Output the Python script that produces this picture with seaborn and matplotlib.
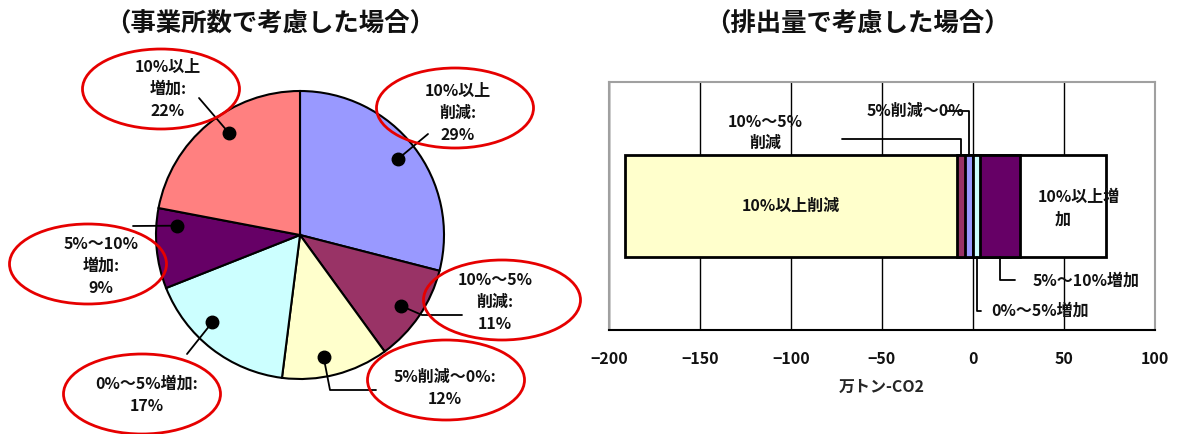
import numpy as np
import pandas as pd
import seaborn as sns
import matplotlib.pyplot as plt
from matplotlib.patches import Ellipse

# 事業所数で見た構成比（%）
pie_labels = ["10%以上削減", "10%～5%削減", "5%削減～0%", "0%～5%増加", "5%～10%増加", "10%以上増加"]
pie_values = [29, 11, 12, 17, 9, 22]
pie_heads = ["10%以上\n削減", "10%～5%\n削減", "5%削減～0%", "0%～5%増加", "5%～10%\n増加", "10%以上\n増加"]
pie_colors = ["#9999FF", "#993366", "#FFFFCC", "#CCFFFF", "#660066", "#FF8080"]

# 排出量で見た増減（万トン-CO2）
bar_labels = ["10%以上削減", "10%～5%削減", "5%削減～0%", "0%～5%増加", "5%～10%増加", "10%以上増加"]
bar_values = [-182, -4.5, -4.5, 4, 22, 47]
bar_colors = ["#FFFFCC", "#993366", "#9999FF", "#CCFFFF", "#660066", "#FFFFFF"]
x_ticks = [-200, -150, -100, -50, 0, 50, 100]

W, H = 1177, 434
sns.set_style("white")
plt.rcParams["font.family"] = ["Noto Sans CJK JP", "DejaVu Sans"]
plt.rcParams["text.color"] = "#111111"
WT = "bold"

fig = plt.figure(figsize=(W / 100, H / 100), dpi=100)

fig.text(270 / W, 1 - 23 / H, "（事業所数で考慮した場合）", ha="center", va="center",
         fontsize=18.3, fontweight=WT)
fig.text(857 / W, 1 - 23 / H, "（排出量で考慮した場合）", ha="center", va="center",
         fontsize=18.3, fontweight=WT)

# ---- 円グラフ（座標はピクセル単位、y は上向き） ----
ax1 = fig.add_axes([0, 0, 600 / W, 1])
def Y(y):
    return H - y

pie_center = (300, Y(235))
pie_radius = 144
wedges, _ = ax1.pie(pie_values, colors=pie_colors, startangle=90, counterclock=False,
                    center=pie_center, radius=pie_radius,
                    wedgeprops=dict(edgecolor="black", linewidth=1.5))
ax1.set_xlim(0, 600)
ax1.set_ylim(0, H)
ax1.axis("off")

# 吹き出しの配置（点は扇形の中の位置 frac、半径の 0.86 倍）
dot_frac = [0.50, 0.52, 0.58, 0.62, 0.80, 0.56]
label_pos = [(458, 113), (495, 302), (445, 388), (147, 395), (101, 266), (168, 89)]
ellipse_pos = [(455, 108), (502, 300), (446, 380), (142, 394), (88, 264), (161, 89)]
leader_pts = [[(428, 134)], [(422, 315), (462, 315)], [(330, 390), (376, 390)],
              [(187, 354)], [(133, 226)], [(199, 98)]]

for w, head, v, fr, lp, ep, pts in zip(wedges, pie_heads, pie_values, dot_frac,
                                      label_pos, ellipse_pos, leader_pts):
    # counterclock=False なので theta2 側から時計回り
    ang = np.deg2rad(w.theta2 - fr * (w.theta2 - w.theta1))
    dx = w.center[0] + 0.86 * w.r * np.cos(ang)
    dy = w.center[1] + 0.86 * w.r * np.sin(ang)
    xs = [dx] + [p[0] for p in pts]
    ys = [dy] + [Y(p[1]) for p in pts]
    ax1.plot(xs, ys, color="black", lw=1.3, zorder=3)
    ax1.plot(dx, dy, "o", color="black", ms=9, zorder=4)
    ax1.add_patch(Ellipse((ep[0], Y(ep[1])), 157, 80, fill=False, edgecolor="#E60000",
                          lw=2, zorder=5))
    ax1.text(lp[0], Y(lp[1]), f"{head}:\n{v}%", ha="center", va="center",
             fontsize=11.5, fontweight=WT, linespacing=1.45, zorder=6)

# ---- 積み上げ横棒 ----
ax2 = fig.add_axes([609 / W, (H - 330) / H, 546 / W, 248 / H])

vals = np.array(bar_values, dtype=float)
ends = np.concatenate([np.cumsum(vals[2::-1])[::-1], np.cumsum(vals[3:])])
starts = np.concatenate([ends[1:3], [0, 0], ends[3:5]])
mids = (starts + ends) / 2

order = [0, 1, 2, 5, 4, 3]  # 外側から重ねて描く
df = pd.DataFrame({
    "区分": [bar_labels[i] for i in order],
    "累積": [ends[i] for i in order],
    "行": "排出量",
})
sns.barplot(data=df, x="累積", y="行", hue="区分", hue_order=list(df["区分"]),
            palette=dict(zip(bar_labels, bar_colors)), saturation=1, dodge=False,
            orient="h", width=0.82, edgecolor="black", linewidth=2, errorbar=None,
            legend=False, ax=ax2)

ax2.set_xlim(-200, 100)
ax2.set_ylim(1, -1)
ax2.set_xticks(x_ticks)
ax2.set_yticks([])
ax2.set_ylabel("")
ax2.set_xlabel("万トン-CO2", fontsize=11.5, fontweight=WT, labelpad=9)
ax2.grid(axis="x", color="black", lw=1)
ax2.set_axisbelow(True)
for s in ["top", "right", "left"]:
    ax2.spines[s].set_color("#A0A0A0")
    ax2.spines[s].set_linewidth(1.5)
ax2.spines["bottom"].set_color("black")
ax2.spines["bottom"].set_linewidth(1.5)
ax2.tick_params(axis="x", length=4, width=1, color="black", direction="out",
                pad=11, labelsize=11.5, labelcolor="#111111")
for t in ax2.get_xticklabels():
    t.set_fontweight(WT)

fs = 11.5
ax2.text(mids[0], 0, bar_labels[0], ha="center", va="center", fontsize=fs, fontweight=WT)
ax2.text(mids[5] + 8.5, -0.07, "10%以上増", ha="center", va="center", fontsize=fs, fontweight=WT)
ax2.text(mids[5], 0.113, "加", ha="center", va="center", fontsize=fs, fontweight=WT)

ax2.plot([mids[1], mids[1], -72], [-0.41, -0.54, -0.54], color="black", lw=1.3)
ax2.text(-114, -0.59, "10%～5%\n削減", ha="center", va="center", fontsize=fs,
         fontweight=WT, linespacing=1.4)

ax2.plot([mids[2], mids[2], -15], [-0.41, -0.77, -0.77], color="black", lw=1.3)
ax2.text(-31.8, -0.77, bar_labels[2], ha="center", va="center", fontsize=fs, fontweight=WT)

ax2.plot([mids[4], mids[4], 23.2], [0.41, 0.60, 0.60], color="black", lw=1.3)
ax2.text(32.6, 0.60, bar_labels[4], ha="left", va="center", fontsize=fs, fontweight=WT)

ax2.plot([mids[3], mids[3], 4.4], [0.41, 0.845, 0.845], color="black", lw=1.3)
ax2.text(10, 0.845, bar_labels[3], ha="left", va="center", fontsize=fs, fontweight=WT)

fig.savefig("out.png", dpi=100)
